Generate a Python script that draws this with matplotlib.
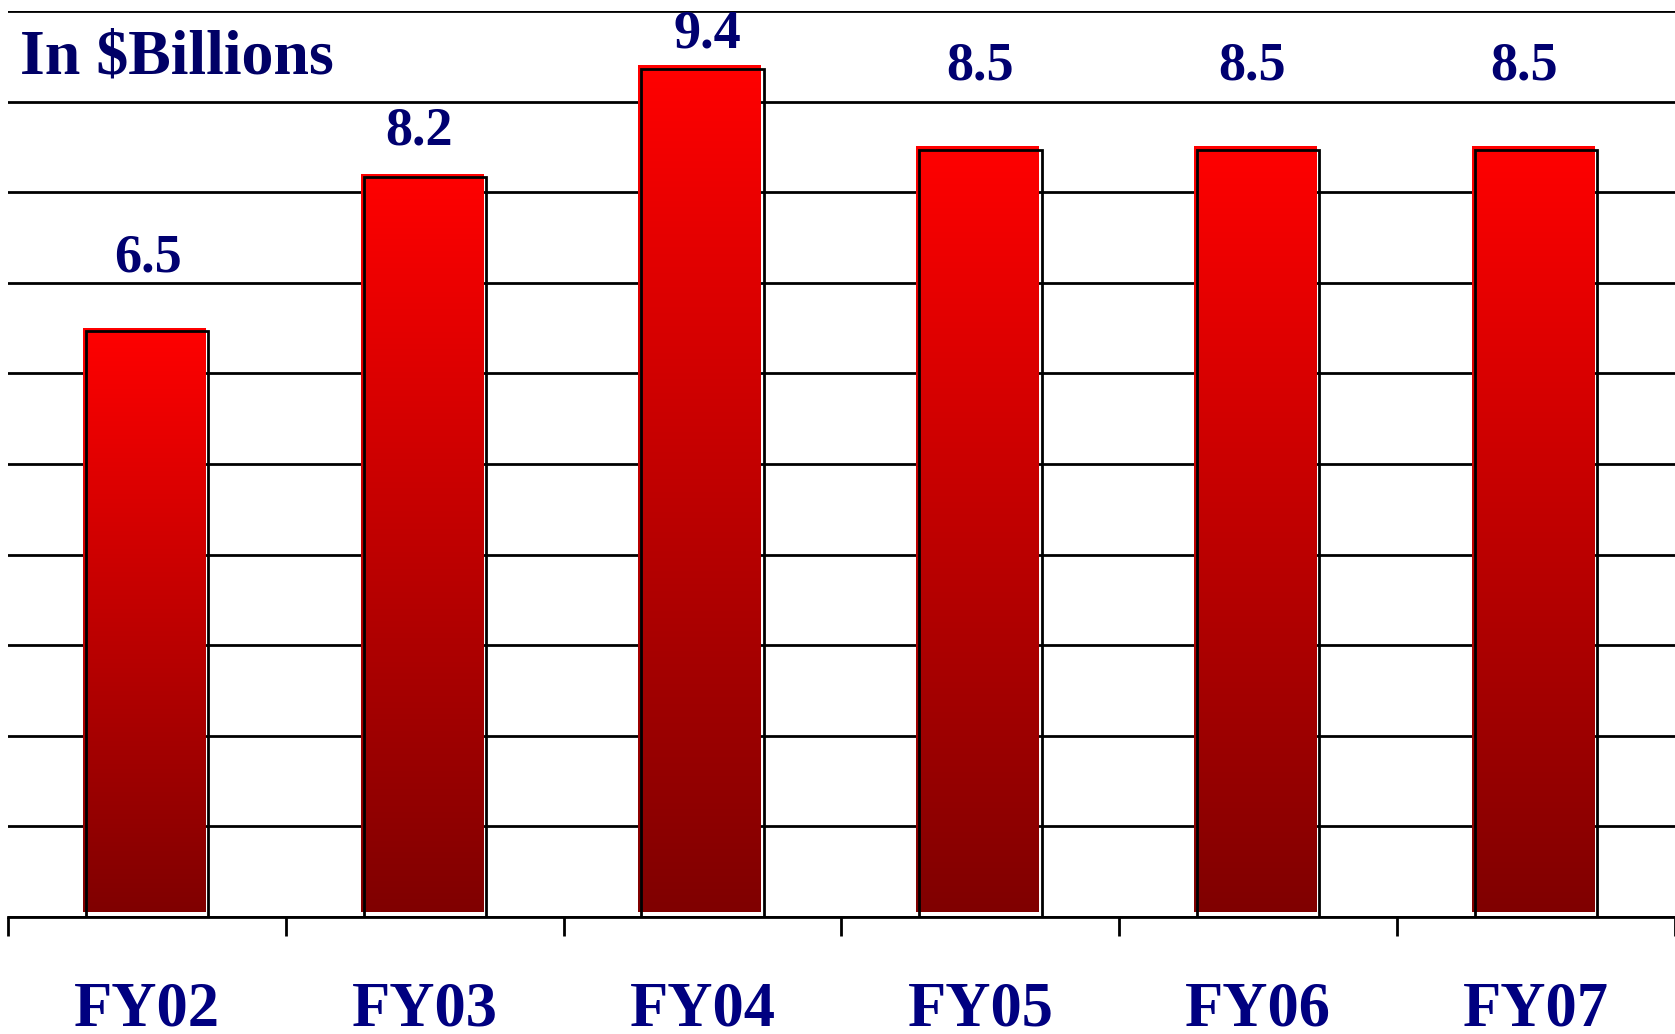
import matplotlib
matplotlib.use("Agg")
import matplotlib.pyplot as plt
import numpy as np
from matplotlib.patches import Rectangle
from matplotlib.colors import LinearSegmentedColormap

# data
years = ["FY02", "FY03", "FY04", "FY05", "FY06", "FY07"]
values = [6.5, 8.2, 9.4, 8.5, 8.5, 8.5]
value_labels = ["6.5", "8.2", "9.4", "8.5", "8.5", "8.5"]

# label placement tweaks (data units), as placed by hand in the original slide
label_dy = [0.62, 0.33, 0.20, 0.74, 0.74, 0.74]
label_dx = [0.004, -0.019, 0.019, 0.0, -0.022, -0.043]

W, H = 1675, 1034
fig = plt.figure(figsize=(W / 100, H / 100), dpi=100)
ax = fig.add_axes([8 / W, 1 - 917 / H, 1 - 8 / W, (917 - 11) / H])

serif = ["Liberation Serif", "DejaVu Serif"]
navy = "#000070"

grad = LinearSegmentedColormap.from_list("bar", ["#800000", "#ff0000"])
g = np.linspace(0, 1, 256).reshape(-1, 1)

bw = 0.44
for i, v in enumerate(values):
    # gradient fill (sits a few px left and above the outline, as in the source)
    ax.imshow(g, cmap=grad, origin="lower", aspect="auto",
              extent=[i - 0.011 - bw / 2, i - 0.011 + bw / 2, 0.055, v], zorder=3)
    ax.add_patch(Rectangle((i - bw / 2, 0), bw, v - 0.035, fill=False,
                           edgecolor="black", lw=2.0, zorder=4))
    ax.text(i + label_dx[i], v + label_dy[i], value_labels[i], ha="center",
            va="baseline", fontsize=39, fontweight="bold", family=serif,
            color=navy, zorder=5)

ax.set_xlim(-0.5, len(years) - 0.5)
ax.set_ylim(0, 10)

ax.set_yticks(np.arange(0, 11, 1))
ax.yaxis.grid(True, color="black", lw=2.0)
ax.set_axisbelow(True)
ax.tick_params(axis="y", left=False, labelleft=False)

ax.set_xticks(np.arange(-0.5, len(years), 1))
ax.tick_params(axis="x", direction="out", length=14, width=2.0, color="black",
               labelbottom=False)

for s in ["left", "right", "top"]:
    ax.spines[s].set_visible(False)
ax.spines["bottom"].set_linewidth(2.0)
ax.spines["bottom"].set_zorder(5)

for i, yr in enumerate(years):
    ax.text(i, -109 / 906, yr, transform=ax.get_xaxis_transform(),
            ha="center", va="baseline", fontsize=45, fontweight="bold",
            family=serif, color="#000080")

fig.text(20 / W, 1 - 74 / H, "In $Billions", ha="left", va="baseline",
         fontsize=46, fontweight="bold", family=serif, color="#000066")

fig.savefig("out.png", dpi=100)
